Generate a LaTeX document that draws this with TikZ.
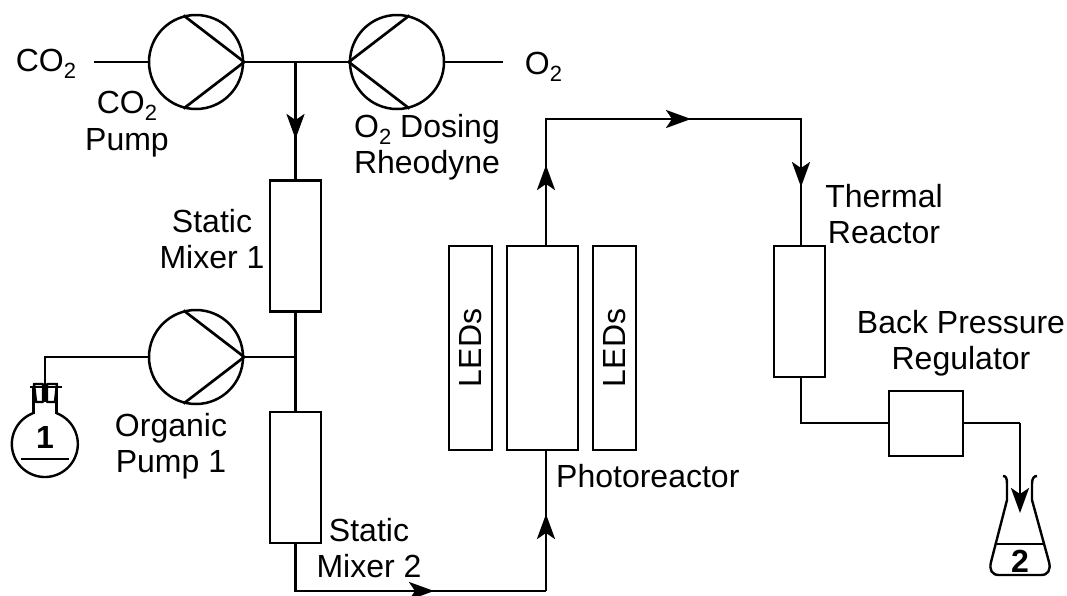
\documentclass[tikz,border=0pt]{standalone}
\usepackage{fontspec}
\setmainfont{Liberation Sans}
\usetikzlibrary{arrows.meta}
\newcommand{\subtwo}{\raisebox{-0.22em}{\fontsize{22}{22}\selectfont 2}}
\tikzset{
  pipe/.style={line width=2.7pt,line join=miter},
  flow/.style={line width=2.7pt,-{Stealth[length=25pt,width=18pt,inset=6pt]}},
  pump/.style={circle,draw,line width=2.5pt,minimum size=94pt,inner sep=0pt},
  unit/.style={rectangle,draw,line width=2.3pt,inner sep=0pt,fill=white},
  lbl/.style={font=\fontsize{32}{36.5}\selectfont,align=center,inner sep=0pt},
  bold/.style={font=\fontsize{32}{32}\selectfont\bfseries,inner sep=0pt},
  glass/.style={line width=2.4pt,line join=round}
}
\begin{document}
\begin{tikzpicture}[x=1pt,y=-1pt]
\useasboundingbox (0,0) rectangle (1067,595);
% units
\node[pump] (p1) at (196,62) {};
\node[pump] (p2) at (397,62) {};
\node[pump] (p3) at (196,357) {};
\node[unit,minimum width=51pt,minimum height=131pt] (s1) at (295.5,246) {};
\node[unit,minimum width=51pt,minimum height=131pt] (s2) at (295.5,477.5) {};
\node[unit,minimum width=43pt,minimum height=204pt] (l1) at (470.5,348) {};
\node[unit,minimum width=71pt,minimum height=204pt] (ph) at (542.5,348) {};
\node[unit,minimum width=43pt,minimum height=204pt] (l2) at (614.5,348) {};
\node[unit,minimum width=51pt,minimum height=131pt] (th) at (799.5,311.5) {};
\node[unit,minimum width=74pt,minimum height=65pt] (bp) at (926,423.5) {};
% coordinates
\coordinate (co2end) at (94,62);
\coordinate (o2end) at (503,62);
\coordinate (j1) at (295.5,62);
\coordinate (a1) at (295.5,139);
\coordinate (j2) at (295.5,357);
\coordinate (c1) at (295.5,591);
\coordinate (c2) at (546,591);
\coordinate (a2) at (434,591);
\coordinate (a3) at (546,514);
\coordinate (c3) at (546,119);
\coordinate (a4) at (546,165);
\coordinate (a5) at (691,119);
\coordinate (c4) at (801,119);
\coordinate (a6) at (801,187);
\coordinate (c5) at (801,423);
\coordinate (c6) at (1020,423);
\coordinate (a7) at (1020,513);
\coordinate (f1t) at (45,357);
% pump chevrons
\draw[pipe] (p1.east) -- (p1.105) (p1.east) -- (p1.-105);
\draw[pipe] (p3.east) -- (p3.105) (p3.east) -- (p3.-105);
\draw[pipe] (p2.west) -- (p2.75) (p2.west) -- (p2.-75);
% connectors
\draw[pipe] (co2end) -- (p1.west);
\draw[pipe] (p2.east) -- (o2end);
\draw[pipe] (p1.east) -- (p2.west);
\draw[pipe] (j1) -- (s1.north);
\draw[flow] (j1) -- (a1);
\draw[pipe] (s1.south) -- (s2.north);
\draw[pipe] (p3.east) -- (j2);
\draw[pipe] (s2.south) -- (c1) -- (c2);
\draw[flow] (c1) -- (a2);
\draw[pipe] (c2) -- (c2 |- ph.south);
\draw[flow] (c2) -- (a3);
\draw[pipe] (c3 |- ph.north) -- (c3) -- (c4) -- (c4 |- th.north);
\draw[flow] (c3 |- ph.north) -- (a4);
\draw[flow] (c3) -- (a5);
\draw[flow] (c4) -- (a6);
\draw[pipe] (c5 |- th.south) -- (c5) -- (c5 -| bp.west);
\draw[pipe] (c5 -| bp.east) -- (c6);
\draw[flow] (c6) -- (a7);
\draw[pipe] (p3.west) -- (f1t) -- (45,402);
% round flask
\draw[glass] (33,413.2) arc[start angle=-111,end angle=-429,radius=33];
\draw[glass] (33.5,414) -- (33.5,388) (56.5,388) -- (56.5,414);
\draw[glass] (30,387) -- (62,387);
\draw[glass] (34,384) -- (43,384) -- (43,402) -- (36,402) -- cycle;
\draw[glass] (47,384) -- (57,384) -- (55,402) -- (47,402) -- cycle;
\draw[glass] (21,459) -- (69,459);
\node[bold] (n1) at (45,437) {1};
% Erlenmeyer
\draw[glass] (1003,476) .. controls (1006,476) and (1007,478) .. (1007,484) -- (1007,500) -- (991,562)
  .. controls (989,570) and (992,575) .. (999,575) -- (1041,575)
  .. controls (1048,575) and (1051,570) .. (1049,562) -- (1032,500) -- (1032,484)
  .. controls (1032,478) and (1034,476) .. (1037,476);
\draw[glass] (997,544) -- (1043,544);
\node[bold] (n2) at (1020,561) {2};
% labels
\node[lbl] (tco2) at (46,64) {CO\subtwo};
\node[lbl] (to2) at (543.5,67) {O\subtwo};
\node[lbl] (tp1) at (127,124) {CO\subtwo\\Pump};
\node[lbl] (tp2) at (427,147) {O\subtwo{} Dosing\\Rheodyne};
\node[lbl] (ts1) at (212,239) {Static\\Mixer 1};
\node[lbl] (tp3) at (171,446) {Organic\\Pump 1};
\node[lbl] (ts2) at (369,548) {Static\\Mixer 2};
\node[lbl,anchor=west] (tph) at (556,476) {Photoreactor};
\node[lbl,rotate=90] (tl1) at (l1.center) {LEDs};
\node[lbl,rotate=90] (tl2) at (l2.center) {LEDs};
\node[lbl] (tth) at (884,214) {Thermal\\Reactor};
\node[lbl] (tbp) at (961,343) {Back Pressure\\Regulator};
\end{tikzpicture}
\end{document}
